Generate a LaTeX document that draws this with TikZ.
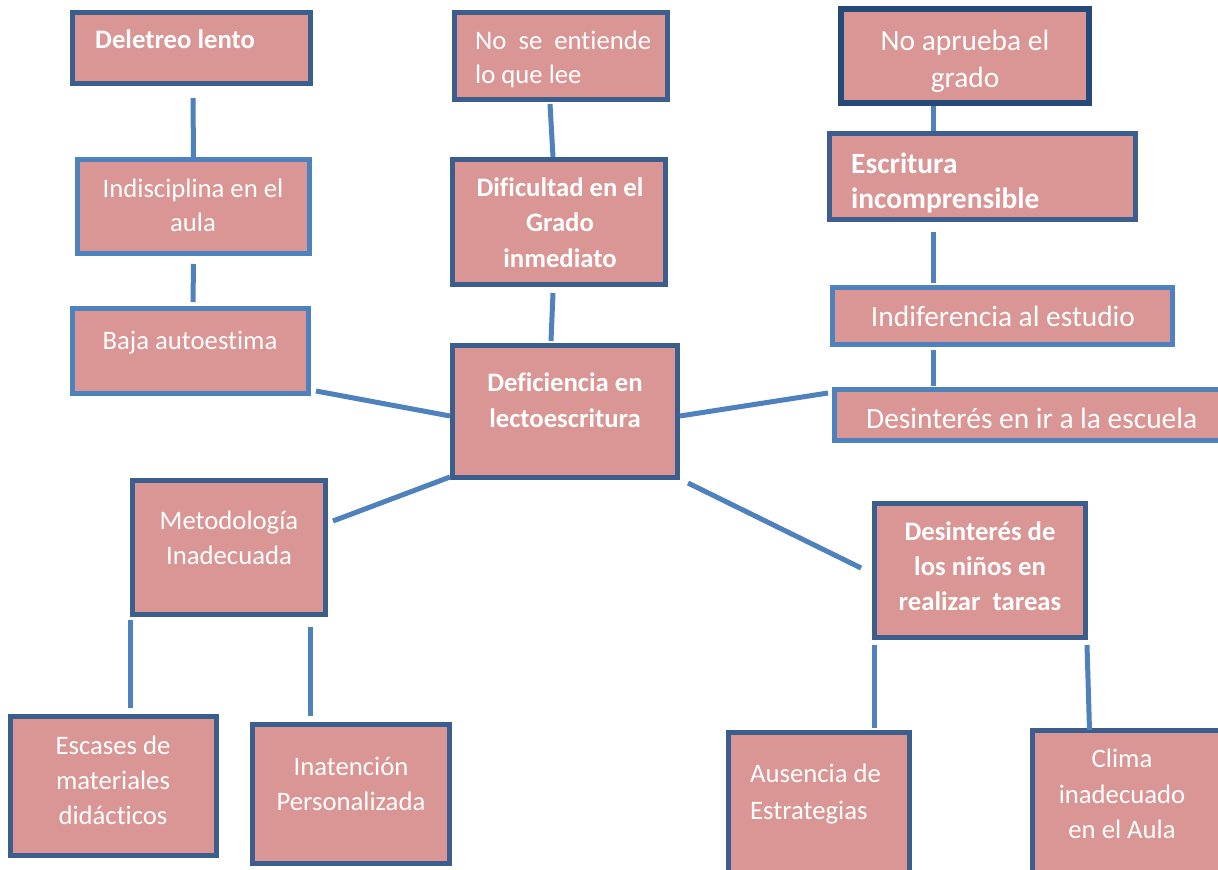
\documentclass[tikz,border=0pt]{standalone}
\usepackage{fontspec}
\setmainfont{Carlito}[Ligatures=NoCommon]
\usetikzlibrary{shadows}
\definecolor{boxfill}{HTML}{D99694}
\definecolor{darkedge}{HTML}{3B5E8C}
\definecolor{lightedge}{HTML}{4F81BD}
\definecolor{deepedge}{HTML}{254A7A}
\definecolor{connc}{HTML}{4F81BD}
\tikzset{
  box/.style={draw=darkedge, line width=5pt, fill=boxfill, rectangle, anchor=north west, inner sep=0pt,
    drop shadow={opacity=0.25, shadow xshift=2pt, shadow yshift=-2pt}},
  lbox/.style={box, draw=lightedge},
  dbox/.style={box, draw=deepedge, line width=6pt},
  txt/.style={text=white, inner sep=0pt, font=\fontsize{26.7}{32}\selectfont, anchor=base},
  txtl/.style={txt, anchor=base west},
  big/.style={font=\fontsize{29.4}{35}\selectfont},
  bold/.style={font=\fontsize{26.7}{32}\selectfont\bfseries},
  bigbold/.style={font=\fontsize{29.4}{35}\selectfont\bfseries},
  conn/.style={draw=connc, line width=5pt}
}
\newcommand{\bx}[7]{\node[#1, minimum width=#5pt, minimum height=#6pt] (#2) at (#3,#4) {};}
\begin{document}
\begin{tikzpicture}[x=1pt,y=-1pt]
\useasboundingbox (0,0) rectangle (1218,870);
\clip (0,0) rectangle (1218,870);
\fill[white] (0,0) rectangle (1218,870);

% boxes: style, name, x1, y1, width, height
\bx{box}{del}{70}{10}{238}{71}{}
\bx{lbox}{ind}{75}{157}{232}{94}{}
\bx{lbox}{baja}{70}{306}{236}{85}{}
\bx{box}{nose}{452}{10}{213}{87}{}
\bx{box}{dif}{450}{157}{213}{125}{}
\bx{box}{def}{450}{343}{225}{132}{}
\bx{dbox}{noap}{838}{6}{248}{94}{}
\bx{box}{esc}{827}{131}{306}{86}{}
\bx{lbox}{indif}{830}{285}{340}{57}{}
\bx{lbox}{desesc}{832}{387}{388}{51}{}
\bx{box}{met}{130}{478}{193}{134}{}
\bx{box}{desn}{872}{501}{211}{134}{}
\bx{box}{escas}{8}{714}{206}{139}{}
\bx{box}{inat}{250}{722}{197}{139}{}
\bx{box}{aus}{726}{730}{181}{150}{}
\bx{box}{clima}{1030}{728}{195}{150}{}

% texts
\node[txtl, bold] (del-1) at (95,48) {Deletreo lento};
\node[txt] (ind-1) at (193,197) {Indisciplina en el};
\node[txt] (ind-2) at (193,231) {aula};
\node[txt] (baja-1) at (190,349) {Baja autoestima};
\node[txtl] (nose-1) at (475,49) {No\ \ se\ \ entiende};
\node[txtl] (nose-2) at (475,83) {lo que lee};
\node[txt, bold] (dif-1) at (560,196) {Dificultad en el};
\node[txt, bold] (dif-2) at (560,231) {Grado};
\node[txt, bold] (dif-3) at (560,267) {inmediato};
\node[txt, bold] (def-1) at (565,391) {Deficiencia en};
\node[txt, bold] (def-2) at (565,427) {lectoescritura};
\node[txt, big] (noap-1) at (965,50) {No aprueba el};
\node[txt, big] (noap-2) at (965,87) {grado};
\node[txtl, bigbold] (esc-1) at (851,173) {Escritura};
\node[txtl, bigbold] (esc-2) at (851,208) {incomprensible};
\node[txt, big] (indif-1) at (1003,326) {Indiferencia al estudio};
\node[txtl, big] (desesc-1) at (866,428) {Desinterés en ir a la escuela};
\node[txt] (met-1) at (229,529) {Metodología};
\node[txt] (met-2) at (229,564) {Inadecuada};
\node[txt, bold] (desn-1) at (980,540) {Desinterés de};
\node[txt, bold] (desn-2) at (980,575) {los niños en};
\node[txt, bold] (desn-3) at (980,610) {realizar\ \ tareas};
\node[txt] (escas-1) at (113,754) {Escases de};
\node[txt] (escas-2) at (113,789) {materiales};
\node[txt] (escas-3) at (113,824) {didácticos};
\node[txt] (inat-1) at (351,775) {Inatención};
\node[txt] (inat-2) at (351,810) {Personalizada};
\node[txtl] (aus-1) at (750,782) {Ausencia de};
\node[txtl] (aus-2) at (750,819) {Estrategias};
\node[txt] (clima-1) at (1122,767) {Clima};
\node[txt] (clima-2) at (1122,803) {inadecuado};
\node[txt] (clima-3) at (1122,838) {en el Aula};

% connectors
\draw[conn] ([shift={(1.5,12)}]del.south) -- (ind.north);
\draw[conn] ([shift={(0,8)}]ind.south) -- ([shift={(2.5,-4)}]baja.north);
\draw[conn] ([shift={(-11,2)}]nose.south) -- ([shift={(-6,0)}]dif.north);
\draw[conn] ([shift={(-6,6)}]dif.south) -- ([shift={(-14,-2)}]def.north);
\draw[conn] ([shift={(-32,0)}]noap.south) -- ([shift={(-49.5,0)}]esc.north);
\draw[conn] ([shift={(-49.5,10)}]esc.south) -- ([shift={(-69.5,-2)}]indif.north);
\draw[conn] ([shift={(-69.5,3)}]indif.south) -- ([shift={(-95.5,-1)}]desesc.north);
\draw[conn] ([shift={(5,40)}]baja.east) -- ([shift={(0,4.5)}]def.west);
\draw[conn] ([shift={(0,4.5)}]def.east) -- ([shift={(-4,-22)}]desesc.west);
\draw[conn] ([shift={(5,-26.5)}]met.east) -- ([shift={(0,-3)}]def.south west);
\draw[conn] ([shift={(8,3)}]def.south east) -- ([shift={(-11,-2.5)}]desn.west);
\draw[conn] ([shift={(0,3)}]met.south west) -- ([shift={(16.5,-6)}]escas.north);
\draw[conn] ([shift={(81,10)}]met.south) -- ([shift={(-41,-6)}]inat.north);
\draw[conn] ([shift={(2,5)}]desn.south west) -- ([shift={(55,-2)}]aus.north);
\draw[conn] ([shift={(-1,5)}]desn.south east) -- ([shift={(-40.5,2)}]clima.north);
\end{tikzpicture}
\end{document}
